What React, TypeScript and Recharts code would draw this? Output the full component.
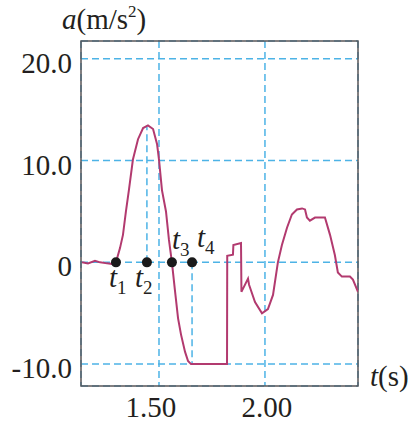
import React from 'react';
import {
  LineChart,
  Line,
  XAxis,
  YAxis,
  CartesianGrid,
  ReferenceArea,
  ReferenceLine,
  ReferenceDot,
} from 'recharts';

// time (s)
const times = [
  1.137, 1.165, 1.198, 1.222, 1.255, 1.278, 1.297, 1.316, 1.33, 1.344, 1.358, 1.377,
  1.401, 1.425, 1.448, 1.472, 1.491, 1.5, 1.514, 1.533, 1.547, 1.561, 1.575, 1.59,
  1.604, 1.623, 1.637, 1.651, 1.821, 1.822, 1.849, 1.851, 1.887, 1.889, 1.92, 1.925,
  1.953, 1.986, 2.014, 2.038, 2.061, 2.08, 2.104, 2.127, 2.151, 2.175, 2.189, 2.198,
  2.212, 2.236, 2.274, 2.283, 2.307, 2.33, 2.344, 2.363, 2.401, 2.415, 2.439,
];

// acceleration (m/s^2)
const accel = [
  0, -0.1, 0.15, 0, -0.1, -0.15, 0, 1.4, 2.7, 5.0, 7.1, 10.1,
  12.1, 13.2, 13.45, 13.1, 11.6, 10.1, 7.1, 5.0, 2.2, 0, -2.7, -5.5,
  -7.1, -8.8, -9.7, -10, -10, 0.65, 0.75, 1.7, 1.9, -2.9, -1.6, -2.2,
  -3.9, -5.0, -4.6, -3.2, 0, 1.7, 3.4, 4.7, 5.2, 5.3, 5.2, 4.4,
  4.1, 4.4, 4.4, 4.4, 2.7, 0.7, -1.0, -1.4, -1.4, -1.7, -2.9,
];

const xTicks = [1.5, 2.0];
const yTicks = [-10, 0, 10, 20];
const yTickLabels = ['-10.0', '0', '10.0', '20.0'];
const xTickLabels = ['1.50', '2.00'];

// marked instants t1..t4
const markNames = ['1', '2', '3', '4'];
const markTimes = [1.297, 1.443, 1.561, 1.656];
const peakValue = 13.3;
const floorValue = -10;

const X_DOMAIN: [number, number] = [1.132, 2.439];
const Y_DOMAIN: [number, number] = [-12.15, 21.75];

const data = times.map((t, i) => ({ t, a: accel[i] }));

const FONT = '"Liberation Serif", "Times New Roman", serif';
const INK = '#231f20';
const GRID = '#4db3e6';
const CURVE = '#b23a6f';

const YTick = ({ x, y, payload }: any) => {
  const idx = yTicks.indexOf(payload.value);
  return (
    <text x={x} y={y + 14} textAnchor="end" fontFamily={FONT} fontSize={29} fill={INK}>
      {yTickLabels[idx]}
    </text>
  );
};

const XTick = ({ x, y, payload }: any) => {
  const idx = xTicks.indexOf(payload.value);
  const shift = idx === 0 ? -8 : 2;
  return (
    <text x={x + shift} y={y + 31} textAnchor="middle" fontFamily={FONT} fontSize={29} fill={INK}>
      {xTickLabels[idx]}
    </text>
  );
};

// label "t" with subscript next to a dot
const markLabel = (sub: string, dx: number, dy: number) => (props: any) => {
  const vb = props.viewBox || {};
  const cx = vb.x + (vb.width || 0) / 2;
  const cy = vb.y + (vb.height || 0) / 2;
  return (
    <text x={cx + dx} y={cy + dy} fontFamily={FONT} fontSize={29} fill={INK}>
      <tspan fontStyle="italic">t</tspan>
      <tspan fontSize={19} dy={7}>{sub}</tspan>
    </text>
  );
};

const labelOffsets = [
  [-7, 25],
  [-12, 25],
  [0, -13],
  [5, -15],
];

const YAxisTitle = (props: any) => {
  const vb = props.viewBox || {};
  return (
    <text x={vb.x + 62} y={vb.y - 12} fontFamily={FONT} fontSize={29} fill={INK}>
      <tspan fontStyle="italic">a</tspan>
      <tspan>(m/s</tspan>
      <tspan fontSize={17} dy={-12}>2</tspan>
      <tspan dy={12}>)</tspan>
    </text>
  );
};

const XAxisTitle = (props: any) => {
  const vb = props.viewBox || {};
  return (
    <text x={vb.x + vb.width + 12} y={vb.y} fontFamily={FONT} fontSize={29} fill={INK}>
      <tspan fontStyle="italic">t</tspan>
      <tspan>(s)</tspan>
    </text>
  );
};

const App = () => {
  return (
    <div style={{ position: 'absolute', left: 0, top: 0, background: '#fff' }}>
      <LineChart
        width={414}
        height={423}
        data={data}
        margin={{ top: 41, right: 56, bottom: 0, left: 0 }}
      >
        <CartesianGrid stroke={GRID} strokeWidth={1.5} strokeDasharray="7 4" />
        <XAxis
          dataKey="t"
          type="number"
          domain={X_DOMAIN}
          ticks={xTicks}
          allowDataOverflow
          height={37}
          tickLine={false}
          axisLine={false}
          tickSize={0}
          tickMargin={0}
          tick={<XTick />}
          label={{ content: XAxisTitle }}
        />
        <YAxis
          type="number"
          domain={Y_DOMAIN}
          ticks={yTicks}
          allowDataOverflow
          width={81}
          tickLine={false}
          axisLine={false}
          tickSize={0}
          tickMargin={9}
          tick={<YTick />}
          label={{ content: YAxisTitle }}
        />
        <ReferenceLine
          segment={[
            { x: markTimes[1], y: 0 },
            { x: markTimes[1], y: peakValue },
          ]}
          stroke={GRID}
          strokeWidth={1.5}
          strokeDasharray="7 4"
        />
        <ReferenceLine
          segment={[
            { x: markTimes[3], y: 0 },
            { x: markTimes[3], y: floorValue },
          ]}
          stroke={GRID}
          strokeWidth={1.5}
          strokeDasharray="7 4"
        />
        <ReferenceArea
          x1={X_DOMAIN[0]}
          x2={X_DOMAIN[1]}
          y1={Y_DOMAIN[0]}
          y2={Y_DOMAIN[1]}
          fill="none"
          fillOpacity={0}
          stroke="#5a5657"
          strokeWidth={1.5}
          ifOverflow="extendDomain"
        />
        <Line
          type="linear"
          dataKey="a"
          stroke={CURVE}
          strokeWidth={2}
          dot={false}
          isAnimationActive={false}
        />
        {markTimes.map((mt, i) => (
          <ReferenceDot
            key={markNames[i]}
            x={mt}
            y={0}
            r={5}
            fill="#1a1a1a"
            stroke="none"
            label={{ content: markLabel(markNames[i], labelOffsets[i][0], labelOffsets[i][1]) }}
          />
        ))}
      </LineChart>
    </div>
  );
};

export default App;
